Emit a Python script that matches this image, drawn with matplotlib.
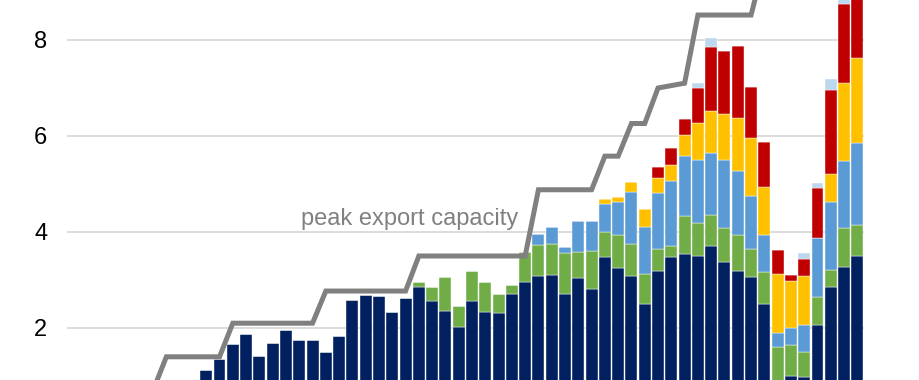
import matplotlib
matplotlib.use("Agg")
import matplotlib.pyplot as plt
import numpy as np

plt.rcParams['font.family'] = ['Liberation Sans', 'DejaVu Sans']

# monthly categories, Jan 2016 .. Dec 2020
years = [2016, 2017, 2018, 2019, 2020]
month_names = ['Jan', 'Feb', 'Mar', 'Apr', 'May', 'Jun',
               'Jul', 'Aug', 'Sep', 'Oct', 'Nov', 'Dec']
months = [f"{m} {y}" for y in years for m in month_names]

# stacked segments (Bcf/d), bottom to top
navy = [0.0, 0.1, 0.3, 0.25, 0.4, 0.35, 0.55, 0.6, 0.7, 0.8,
        1.13, 1.35, 1.66, 1.87, 1.42, 1.69, 1.96, 1.76, 1.74, 1.49,
        1.84, 2.58, 2.69, 2.66, 2.33, 2.63, 2.86, 2.56, 2.36, 2.03,
        2.56, 2.33, 2.31, 2.70, 2.95, 3.08, 3.10, 2.71, 3.04, 2.81,
        3.47, 3.26, 3.08, 2.49, 3.18, 3.48, 3.54, 3.51, 3.71, 3.38,
        3.18, 3.06, 2.51, 0.75, 0.99, 0.97, 2.06, 2.86, 3.28, 3.51]
green = [0] * 26 + [
        0.09, 0.30, 0.70, 0.43, 0.62, 0.62, 0.39, 0.20, 0.63, 0.65,
        0.66, 0.85, 0.54, 0.79, 0.54, 0.67, 0.68, 0.64, 0.46, 0.23,
        0.79, 0.67, 0.64, 0.70, 0.75, 0.58, 0.65, 0.85, 0.65, 0.54,
        0.58, 0.35, 0.80, 0.64]
blue = [0] * 35 + [
        0.22, 0.34, 0.12, 0.65, 0.63, 0.57, 0.70, 1.07, 0.97, 1.17,
        1.35, 1.25, 1.32, 1.30, 1.42, 1.34, 1.12, 0.77, 0.29, 0.35,
        0.55, 1.24, 1.42, 1.40, 1.70]
yellow = [0] * 40 + [
        0.10, 0.10, 0.22, 0.37, 0.32, 0.34, 0.45, 0.77, 0.87, 0.95,
        1.11, 1.19, 1.01, 1.24, 0.99, 1.02, 0.00, 0.57, 1.62, 1.77]
red = [0] * 44 + [
        0.22, 0.36, 0.32, 0.73, 1.33, 1.32, 1.50, 1.07, 0.94, 0.50,
        0.12, 0.36, 1.03, 1.76, 1.65, 1.68]
pale = [0] * 47 + [
        0.10, 0.20, 0, 0, 0, 0, 0, 0, 0.12, 0.12, 0.23, 0.12, 0.10]

capacity = [0.7, 0.7, 0.7, 0.7, 0.7, 0.7, 0.7, 1.40, 1.40, 1.40,
            1.40, 1.40, 2.10, 2.10, 2.10, 2.10, 2.10, 2.10, 2.10, 2.77,
            2.77, 2.77, 2.77, 2.77, 2.77, 2.77, 3.50, 3.50, 3.50, 3.50,
            3.50, 3.50, 3.50, 3.50, 3.50, 4.88, 4.88, 4.88, 4.88, 4.88,
            5.58, 5.58, 6.26, 6.26, 7.00, 7.05, 7.10, 8.52, 8.52, 8.52,
            8.52, 8.52, 9.60, 9.60, 9.60, 9.60, 9.60, 9.60, 9.60, 9.60]

series = [navy, green, blue, yellow, red, pale]
colors = ['#002060', '#70AD47', '#5B9BD5', '#FFC000', '#C00000', '#BDD7EE']

fig = plt.figure(figsize=(9.2, 3.8), dpi=100)
ax = fig.add_axes([66.7 / 920, 0, (864 - 66.7) / 920, 1])

x = np.arange(len(months))
bottom = np.zeros(len(months))
for vals, c in zip(series, colors):
    vals = np.array(vals, dtype=float)
    ax.bar(x, vals, bottom=bottom, width=0.9, color=c,
           edgecolor='white', linewidth=0.3, zorder=2)
    bottom += vals

ax.plot(x, capacity, color='#808080', lw=3.6, zorder=3,
        solid_joinstyle='miter')
ax.text(17.14, 4.146, 'peak export capacity', color='#808080',
        fontsize=17, va='baseline', ha='left', zorder=4)

ax.set_xlim(-0.5, len(months) - 0.5)
ax.set_ylim(0.9167, 8.833)
ax.set_yticks([2, 4, 6, 8])
ax.set_yticklabels(['2', '4', '6', '8'])
ax.yaxis.grid(True, color='#D9D9D9', lw=1.3, zorder=0)
ax.set_axisbelow(True)
ax.set_xticks([])
ax.tick_params(axis='y', length=0, pad=14, labelsize=17)
for s in ax.spines.values():
    s.set_visible(False)

fig.savefig('out.png', dpi=100)
